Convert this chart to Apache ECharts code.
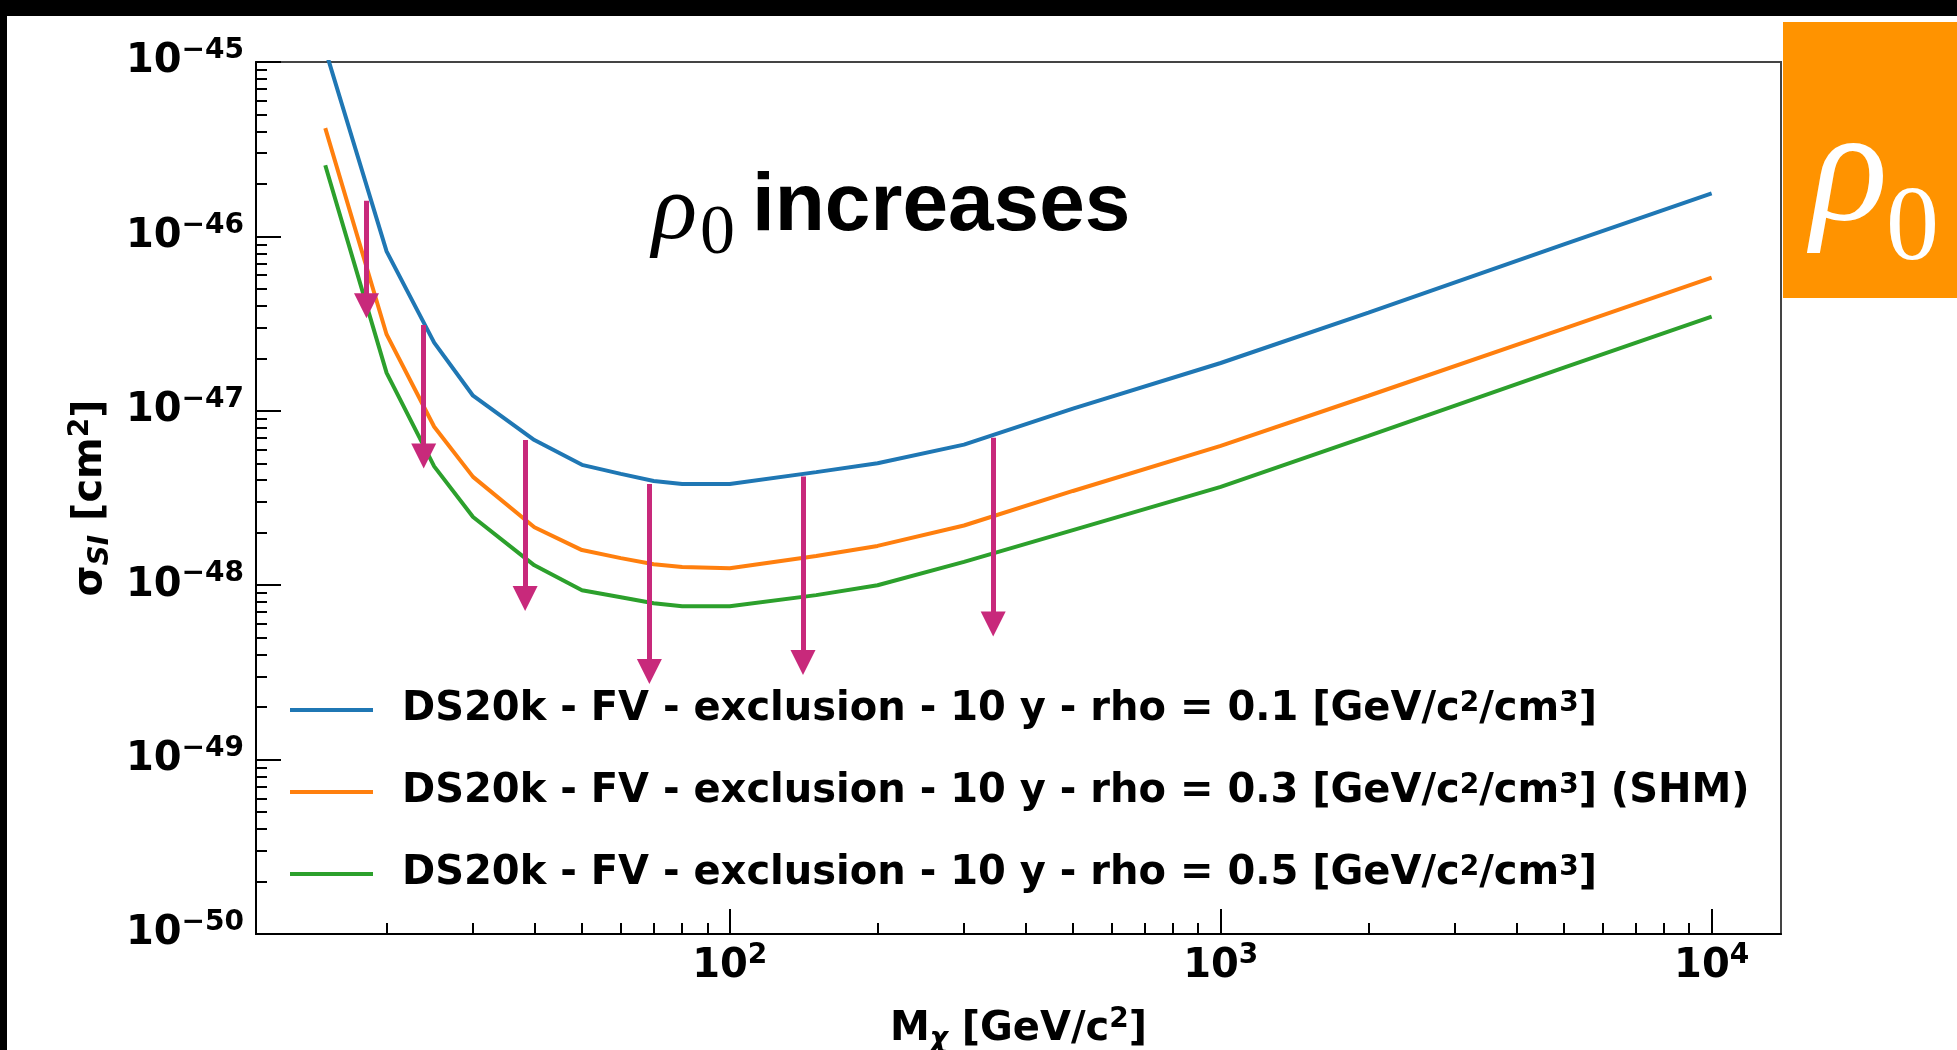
<!DOCTYPE html>
<html>
<head>
<meta charset="utf-8">
<title>DS20k exclusion vs rho</title>
<script src="https://cdn.jsdelivr.net/npm/echarts@6/dist/echarts.min.js"></script>
<style>
  html, body { margin: 0; padding: 0; background: #fff; }
  #chart { width: 1957px; height: 1050px; }
</style>
</head>
<body>
<div id="chart"></div>
<script>
// WIMP mass [GeV/c^2]
const massGeV = [15, 20, 25, 30, 40, 50, 60, 70, 80, 100, 150, 200, 300, 500, 1000, 2000, 5000, 10000];
// sigma_SI [cm^2] for the three local densities
const sigmaRho01 = [1.18e-45, 8.2e-47, 2.46e-47, 1.22e-47, 6.8e-48, 4.9e-48, 4.35e-48, 3.96e-48, 3.8e-48, 3.8e-48,
  4.45e-48, 5.0e-48, 6.4e-48, 1.03e-47, 1.88e-47, 3.66e-47, 9.0e-47, 1.765e-46];
const sigmaRho03 = [4.18e-46, 2.74e-47, 8.1e-48, 4.18e-48, 2.15e-48, 1.59e-48, 1.43e-48, 1.32e-48, 1.27e-48, 1.25e-48,
  1.47e-48, 1.68e-48, 2.2e-48, 3.47e-48, 6.3e-48, 1.22e-47, 2.96e-47, 5.81e-47];
const sigmaRho05 = [2.56e-46, 1.65e-47, 4.8e-48, 2.46e-48, 1.3e-48, 9.35e-49, 8.53e-49, 7.88e-49, 7.57e-49, 7.57e-49,
  8.77e-49, 1.0e-48, 1.36e-48, 2.07e-48, 3.66e-48, 7.18e-48, 1.77e-47, 3.47e-47];
const seriesNames = [
  'DS20k - FV - exclusion - 10 y - rho = 0.1 [GeV/c²/cm³]',
  'DS20k - FV - exclusion - 10 y - rho = 0.3 [GeV/c²/cm³] (SHM)',
  'DS20k - FV - exclusion - 10 y - rho = 0.5 [GeV/c²/cm³]'
];
const seriesColors = ['#1f77b4', '#ff7f0e', '#2ca02c'];

// arrows: mass, start and end (end = centre of the head)
const arrowMass = [18.2, 23.8, 38.3, 68.6, 141, 344];
const arrowFrom = [1.6e-46, 3.1e-47, 6.8e-48, 3.8e-48, 4.2e-48, 7.0e-48];
const arrowTo = [4.0e-47, 5.5e-48, 8.4e-49, 3.2e-49, 3.6e-49, 6.0e-49];

// axes
const xMin = 10.84, xMax = 13844;
const yMin = 1e-50, yMax = 1e-45;
const xMajorTicks = [100, 1000, 10000];
const xTickLabels = ['2', '3', '4'];
const yMajorTicks = [1e-50, 1e-49, 1e-48, 1e-47, 1e-46, 1e-45];
const yTickLabels = ['−50', '−49', '−48', '−47', '−46', '−45'];
const minorMult = [2, 3, 4, 5, 6, 7, 8, 9];

const FONT = 'DejaVu Sans';
const exp10 = (v) => Math.round(Math.log10(v));

const xMajorLog = xMajorTicks.map(exp10);
const yMajorLog = yMajorTicks.map(exp10);
const xMinorLog = [];
[10, 100, 1000].forEach((d) => minorMult.forEach((k) => xMinorLog.push(Math.log10(k * d))));
const yMinorLog = [];
yMajorTicks.slice(0, 5).forEach((d) => minorMult.forEach((k) => yMinorLog.push(Math.log10(k * d))));

// ² and ³ drawn as real superscripts, like matplotlib mathtext
const supRich = (name) => name.replace(/²/g, '{p|2}').replace(/³/g, '{p|3}');

const tickRich = {
  b: { fontFamily: FONT, fontWeight: 'bold', fontSize: 40, lineHeight: 50, color: '#000' },
  s: { fontFamily: FONT, fontWeight: 'bold', fontSize: 28, lineHeight: 28, verticalAlign: 'top', color: '#000' }
};
const nameRich = {
  a: { fontFamily: FONT, fontWeight: 'bold', fontSize: 40, lineHeight: 48, color: '#000' },
  s: { fontFamily: FONT, fontWeight: 'bold', fontStyle: 'italic', fontSize: 28, lineHeight: 28, verticalAlign: 'bottom', color: '#000' },
  p: { fontFamily: FONT, fontWeight: 'bold', fontSize: 28, lineHeight: 26, verticalAlign: 'top', color: '#000' }
};
const tickLine = { color: '#000', width: 2 };

const myChart = echarts.init(document.getElementById('chart'));

myChart.setOption({
  animation: false,
  backgroundColor: '#fff',
  grid: {
    left: 256,
    right: 176,
    top: 62,
    bottom: 116,
    show: true,
    borderColor: '#444',
    borderWidth: 2,
    outerBoundsMode: 'none'
  },
  legend: {
    data: seriesNames,
    orient: 'vertical',
    left: 290,
    top: 690,
    padding: 0,
    icon: 'rect',
    itemWidth: 83,
    itemHeight: 4,
    itemGap: 42,
    selectedMode: false,
    formatter: supRich,
    textStyle: {
      fontFamily: FONT,
      fontWeight: 'bold',
      fontSize: 40,
      lineHeight: 40,
      color: '#000',
      padding: [0, 0, 0, 24],
      rich: {
        p: { fontFamily: FONT, fontWeight: 'bold', fontSize: 28, lineHeight: 18, verticalAlign: 'top', color: '#000' }
      }
    }
  },
  xAxis: [
    // data axis (log), kept hidden
    { type: 'log', logBase: 10, min: xMin, max: xMax, show: false },
    // visible axis with major ticks and labels, in log10 units
    {
      type: 'value',
      min: Math.log10(xMin),
      max: Math.log10(xMax),
      position: 'bottom',
      axisLine: { show: true, onZero: false, lineStyle: tickLine },
      axisTick: { show: true, inside: true, length: 25, customValues: xMajorLog, lineStyle: tickLine },
      axisLabel: {
        show: true,
        customValues: xMajorLog,
        margin: 8,
        formatter: (v) => '{b|10}{s|' + xTickLabels[xMajorLog.indexOf(Math.round(v))] + '}',
        rich: tickRich
      },
      splitLine: { show: false },
      name: '{a|M}{s|χ}{a| [GeV/c}{p|2}{a|]}',
      nameLocation: 'middle',
      nameGap: 72,
      nameTextStyle: { rich: nameRich }
    },
    // minor ticks
    {
      type: 'value',
      min: Math.log10(xMin),
      max: Math.log10(xMax),
      position: 'bottom',
      axisLine: { show: false, onZero: false },
      axisTick: { show: true, inside: true, length: 11, customValues: xMinorLog, lineStyle: tickLine },
      axisLabel: { show: false },
      splitLine: { show: false }
    }
  ],
  yAxis: [
    { type: 'log', logBase: 10, min: yMin, max: yMax, show: false },
    {
      type: 'value',
      min: exp10(yMin),
      max: exp10(yMax),
      position: 'left',
      axisLine: { show: true, onZero: false, lineStyle: tickLine },
      axisTick: { show: true, inside: true, length: 25, customValues: yMajorLog, lineStyle: tickLine },
      axisLabel: {
        show: true,
        customValues: yMajorLog,
        margin: 12,
        formatter: (v) => '{b|10}{s|' + yTickLabels[yMajorLog.indexOf(Math.round(v))] + '}',
        rich: tickRich
      },
      splitLine: { show: false },
      name: '{a|σ}{s|SI}{a| [cm}{p|2}{a|]}',
      nameLocation: 'middle',
      nameGap: 141,
      nameTextStyle: { rich: nameRich }
    },
    {
      type: 'value',
      min: exp10(yMin),
      max: exp10(yMax),
      position: 'left',
      axisLine: { show: false, onZero: false },
      axisTick: { show: true, inside: true, length: 11, customValues: yMinorLog, lineStyle: tickLine },
      axisLabel: { show: false },
      splitLine: { show: false }
    }
  ],
  series: [
    ...[sigmaRho01, sigmaRho03, sigmaRho05].map((ys, k) => ({
      name: seriesNames[k],
      type: 'line',
      xAxisIndex: 0,
      yAxisIndex: 0,
      data: massGeV.map((m, i) => [m, ys[i]]),
      symbol: 'none',
      clip: true,
      z: 3,
      lineStyle: { color: seriesColors[k], width: 4 },
      itemStyle: { color: seriesColors[k] }
    })),
    {
      type: 'lines',
      coordinateSystem: 'cartesian2d',
      xAxisIndex: 0,
      yAxisIndex: 0,
      z: 4,
      symbol: ['none', 'triangle'],
      symbolSize: 25,
      lineStyle: { color: '#c8297b', width: 5, opacity: 1, curveness: 0 },
      data: arrowMass.map((m, i) => ({ coords: [[m, arrowFrom[i]], [m, arrowTo[i]]] }))
    }
  ],
  graphic: [
    // black slide edges
    { type: 'rect', shape: { x: 0, y: 0, width: 1957, height: 16 }, style: { fill: '#000' } },
    { type: 'rect', shape: { x: 0, y: 0, width: 7, height: 1050 }, style: { fill: '#000' } },
    // orange tag on the right
    { type: 'rect', shape: { x: 1783, y: 22, width: 174, height: 276 }, style: { fill: '#ff9300' } },
    { type: 'text', x: 1811, y: 177, style: { text: 'ρ', fill: '#fff', fontFamily: 'Liberation Serif', fontStyle: 'italic', fontSize: 160, align: 'left', verticalAlign: 'middle' } },
    { type: 'text', x: 1886, y: 231, style: { text: '0', fill: '#fff', fontFamily: 'Liberation Serif', fontSize: 106, align: 'left', verticalAlign: 'middle' } },
    // annotation
    { type: 'text', x: 652, y: 213, z: 10, style: { text: 'ρ', fill: '#000', fontFamily: 'Liberation Serif', fontStyle: 'italic', fontSize: 94, align: 'left', verticalAlign: 'middle' } },
    { type: 'text', x: 700, y: 235, z: 10, style: { text: '0', fill: '#000', fontFamily: 'Liberation Serif', fontSize: 70, align: 'left', verticalAlign: 'middle' } },
    { type: 'text', x: 752, y: 207, z: 10, style: { text: 'increases', fill: '#000', fontFamily: 'Liberation Sans', fontWeight: 'bold', fontSize: 82, align: 'left', verticalAlign: 'middle' } }
  ]
});
</script>
</body>
</html>
